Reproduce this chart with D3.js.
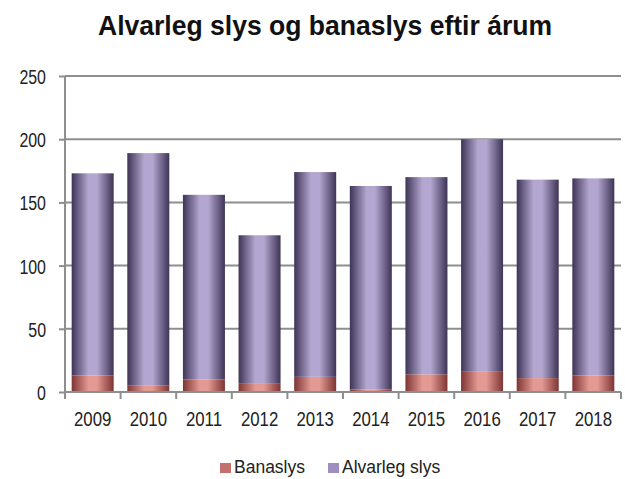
<!DOCTYPE html>
<html>
<head>
<meta charset="utf-8">
<script src="https://cdn.jsdelivr.net/npm/d3@7"></script>
<style>
  body { margin: 0; background: #fff; }
  svg { font-family: "Liberation Sans", Arial, sans-serif; }
</style>
</head>
<body>
<div class="chart"></div>
<script>
const years = ['2009', '2010', '2011', '2012', '2013', '2014', '2015', '2016', '2017', '2018'];
const banaslys = [13, 5, 10, 7, 12, 2, 14, 16, 11, 13];
const alvarleg = [160, 184, 146, 117, 162, 161, 156, 184, 157, 156];
const yTicks = [0, 50, 100, 150, 200, 250];
const seriesNames = ['Banaslys', 'Alvarleg slys'];

const width = 625, height = 479;
const margin = { top: 76, right: 4, bottom: 87, left: 65 };

const svg = d3.select('.chart').append('svg')
    .attr('width', width)
    .attr('height', height);

const defs = svg.append('defs');
function cylGrad(id, dark, light) {
    const g = defs.append('linearGradient').attr('id', id)
        .attr('x1', '0%').attr('x2', '100%').attr('y1', '0%').attr('y2', '0%');
    g.append('stop').attr('offset', '0%').attr('stop-color', dark);
    g.append('stop').attr('offset', '40%').attr('stop-color', light);
    g.append('stop').attr('offset', '60%').attr('stop-color', light);
    g.append('stop').attr('offset', '100%').attr('stop-color', dark);
}
cylGrad('gPurple', '#3e3456', '#b3a6d0');
cylGrad('gRed', '#7d3433', '#e39a93');

const x = d3.scaleBand()
    .domain(years)
    .range([margin.left, width - margin.right])
    .paddingInner(0.245)
    .paddingOuter(0.12);

const y = d3.scaleLinear()
    .domain([0, 250])
    .range([height - margin.bottom, margin.top]);

// gridlines
svg.append('g')
    .selectAll('line')
    .data(yTicks.slice(1))
    .enter()
    .append('line')
    .attr('x1', margin.left)
    .attr('x2', width - margin.right)
    .attr('y1', d => y(d))
    .attr('y2', d => y(d))
    .attr('stroke', '#8e8e8e')
    .attr('stroke-width', 2);

const stacked = d3.stack().keys([0, 1])(years.map((yr, i) => [banaslys[i], alvarleg[i]]));
const fills = ['url(#gRed)', 'url(#gPurple)'];

stacked.forEach((layer, k) => {
    svg.append('g')
        .selectAll('rect')
        .data(layer)
        .enter()
        .append('rect')
        .attr('x', (d, i) => x(years[i]))
        .attr('width', x.bandwidth())
        .attr('y', d => y(d[1]))
        .attr('height', d => y(d[0]) - y(d[1]))
        .attr('fill', fills[k]);
});

// y axis
const yAxis = svg.append('g')
    .attr('transform', `translate(${margin.left},0)`)
    .call(d3.axisLeft(y).tickValues(yTicks).tickSize(6));
yAxis.selectAll('line, path').attr('stroke', '#8e8e8e').attr('stroke-width', 2);
yAxis.select('.domain').attr('d', `M0,${y(0)}V${y(250)}`);
yAxis.selectAll('text')
    .attr('x', null).attr('dy', null)
    .attr('font-size', 21)
    .attr('fill', '#222')
    .attr('transform', 'translate(-19,7.5) scale(0.76,1)');

// x axis
const xAxis = svg.append('g')
    .attr('transform', `translate(0,${y(0)})`);
xAxis.append('line')
    .attr('x1', margin.left).attr('x2', width - margin.right)
    .attr('stroke', '#8e8e8e').attr('stroke-width', 2);
xAxis.selectAll('.tk')
    .data(d3.range(years.length + 1))
    .enter()
    .append('line')
    .attr('class', 'tk')
    .attr('x1', i => margin.left + i * (width - margin.right - margin.left) / years.length)
    .attr('x2', i => margin.left + i * (width - margin.right - margin.left) / years.length)
    .attr('y1', 0).attr('y2', 7)
    .attr('stroke', '#8e8e8e').attr('stroke-width', 2);
xAxis.selectAll('text')
    .data(years)
    .enter()
    .append('text')
    .attr('transform', d => `translate(${x(d) + x.bandwidth() / 2},33.5) scale(0.8,1)`)
    .attr('text-anchor', 'middle')
    .attr('font-size', 21)
    .attr('fill', '#222')
    .text(d => d);

// title
svg.append('text')
    .attr('x', 325)
    .attr('y', 35)
    .attr('text-anchor', 'middle')
    .attr('font-size', 28)
    .attr('font-weight', 'bold')
    .attr('fill', '#111')
    .attr('textLength', 454)
    .attr('lengthAdjust', 'spacingAndGlyphs')
    .text('Alvarleg slys og banaslys eftir árum');

// legend
const legendColors = ['#c4716e', '#9e8fc0'];
const legendX = [220, 328];
const legend = svg.selectAll('.legend')
    .data(seriesNames)
    .enter()
    .append('g')
    .attr('class', 'legend')
    .attr('transform', (d, i) => `translate(${legendX[i]},473)`);
legend.append('rect')
    .attr('x', 0).attr('y', -10)
    .attr('width', 11).attr('height', 10)
    .attr('fill', (d, i) => legendColors[i]);
legend.append('text')
    .attr('x', 14).attr('y', 0)
    .attr('font-size', 17.5)
    .attr('fill', '#222')
    .text(d => d);
</script>
</body>
</html>
